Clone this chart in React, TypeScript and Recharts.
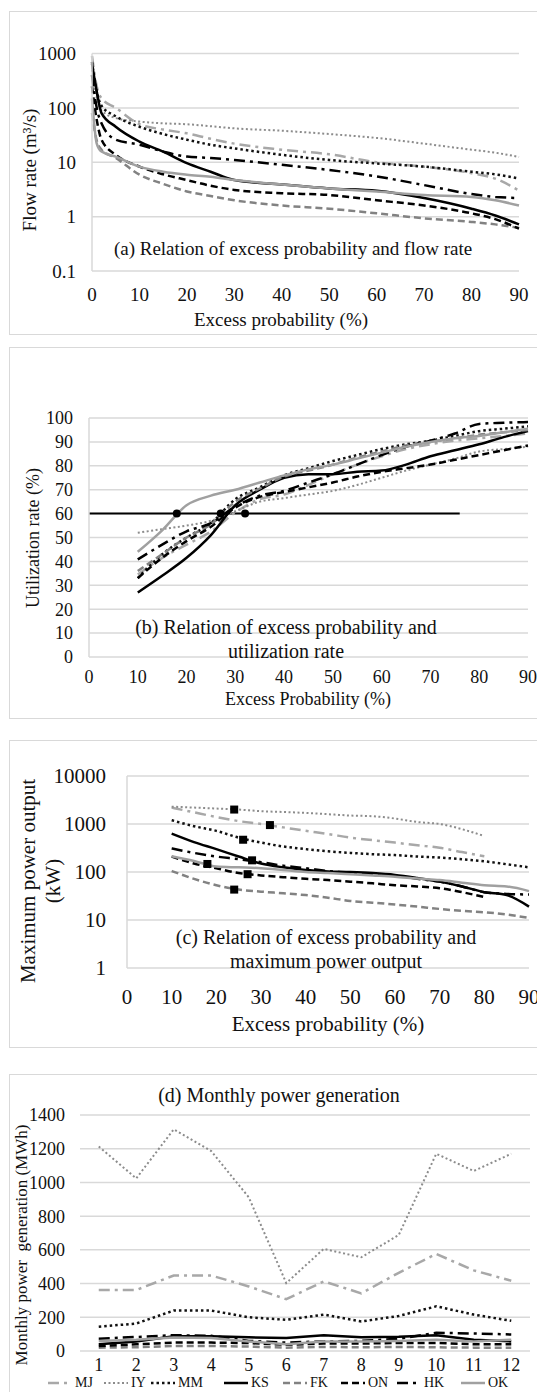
import React from "react";
import {
  ComposedChart,
  Line,
  Scatter,
  XAxis,
  YAxis,
  CartesianGrid,
  ReferenceLine,
} from "recharts";

const seriesNames = ["MJ", "IY", "MM", "KS", "FK", "ON", "HK", "OK"];

// (a) flow duration
const probA = [0, 1, 2, 5, 10, 15, 20, 25, 30, 40, 50, 60, 70, 80, 85, 90];
const flowMJ = [900, 250, 150, 100, 50, 40, 34, 27, 22, 17, 14, 10, 8.3, 6.3, 5, 3];
const flowIY = [500, 150, 90, 65, 56, 52, 50, 46, 42, 38, 33, 28, 22, 17, 15, 12.5];
const flowMM = [700, 200, 110, 70, 45, 33, 26, 21, 18, 13.7, 11, 9.5, 8.3, 6.7, 6, 5];
const flowKS = [650, 200, 80, 45, 24, 15.7, 9.6, 6.7, 4.7, 3.9, 3.3, 3.0, 2.2, 1.4, 1.05, 0.72];
const flowFK = [80, 25, 17, 12, 5.9, 4, 2.9, 2.4, 2.0, 1.6, 1.4, 1.15, 0.93, 0.8, 0.72, 0.62];
const flowON = [250, 60, 26, 13.7, 8.3, 6, 4.7, 3.7, 3.1, 2.7, 2.5, 2.0, 1.6, 1.15, 0.9, 0.6];
const flowHK = [400, 100, 52, 26, 21, 15.7, 12.7, 12, 11, 9, 7.2, 5.5, 3.8, 2.6, 2.3, 2.2];
const flowOK = [150, 22, 15.7, 12.7, 8.3, 6.7, 5.9, 5.4, 4.7, 3.9, 3.3, 2.9, 2.5, 2.3, 2.0, 1.6];

// (b) utilization rate
const probB = [10, 15, 20, 25, 30, 35, 40, 45, 50, 55, 60, 65, 70, 75, 80, 85, 90];
const utilMJ = [34.5, 41.5, 47, 52.5, 60.5, 66, 68, 72, 76.5, 80.5, 84, 87, 89, 90.5, 91.5, 92.5, 93.5];
const utilIY = [52, 53.5, 55, 57, 61, 65, 66.5, 68, 69.5, 72, 75, 78, 80.5, 83, 86, 87, 88];
const utilMM = [33, 43, 50, 56, 66, 71, 76, 79, 82, 84.5, 87, 89, 90.5, 92.5, 94.5, 95.5, 96.5];
const utilKS = [27, 34, 41.5, 51, 63.5, 70, 75, 76.5, 76.5, 77.5, 78, 80.5, 84, 86.5, 89, 92, 94.5];
const utilFK = [36, 43, 50, 55.5, 65, 70.5, 75.5, 78, 80.5, 83.5, 86, 88.5, 90, 91.5, 93, 94, 95];
const utilON = [33, 41.5, 48.5, 54.5, 62.5, 67, 69, 71, 73, 75.5, 77.5, 79, 80.5, 82.5, 84.5, 86.5, 88.5];
const utilHK = [40.8, 47, 52.6, 56, 63, 67.5, 69.5, 73, 76.5, 80.5, 84.5, 88, 90.5, 93.5, 97.5, 98, 98.3];
const utilOK = [44, 53, 63.5, 67.5, 70, 73, 76, 78.5, 80.5, 83, 85.5, 88, 90, 91.5, 92.5, 94, 95.5];
const thresholdRate = 60;
const thresholdSpan = [0, 76];
const thresholdHitsX = [18, 27, 32];

// (c) maximum power output
const probC = [10, 15, 20, 25, 30, 35, 40, 45, 50, 55, 60, 65, 70, 75, 80, 85, 90];
const powMJ = [2200, 1750, 1400, 1150, 1000, 850, 720, 620, 520, 460, 410, 360, 320, 260, 213, null, null];
const powIY = [2300, 2200, 2100, 2000, 1850, 1780, 1700, 1600, 1500, 1450, 1300, 1100, 1000, 780, 560, null, null];
const powMM = [1200, 900, 720, 520, 410, 340, 300, 270, 250, 235, 225, 210, 200, 185, 167, 145, 125];
const powKS = [630, 420, 300, 210, 150, 125, 110, 103, 100, 95, 87, 75, 63, 50, 38, 33, 19];
const powFK = [105, 72, 53, 43, 39, 36, 33, 29, 25, 23, 21, 19, 17, 15.5, 14.5, 13, 11];
const powON = [210, 150, 120, 95, 85, 78, 72, 68, 63, 58, 53, 50, 46, 38, 30, null, null];
const powHK = [310, 250, 210, 185, 160, 135, 120, 105, 95, 90, 85, 72, 63, 50, 38, 35, 34];
const powOK = [213, 170, 130, 125, 120, 110, 100, 95, 90, 85, 80, 73, 68, 60, 53, 50, 40];
const designX = [24, 32, 26, 28, 18, 27, 24];
const designP = [2000, 950, 470, 175, 147, 90, 43];

// (d) monthly generation
const months = [1, 2, 3, 4, 5, 6, 7, 8, 9, 10, 11, 12];
const genMJ = [362, 362, 448, 448, 383, 307, 413, 342, 464, 576, 478, 417];
const genIY = [1213, 1024, 1315, 1186, 912, 403, 606, 556, 688, 1170, 1068, 1170];
const genMM = [144, 163, 240, 240, 200, 185, 216, 175, 208, 265, 216, 179];
const genKS = [40, 57, 87, 87, 81, 77, 94, 81, 85, 94, 67, 57];
const genFK = [20, 22, 30, 30, 26, 20, 24, 22, 24, 22, 20, 20];
const genON = [30, 40, 50, 50, 47, 37, 44, 44, 48, 48, 40, 40];
const genHK = [73, 83, 94, 90, 60, 50, 57, 60, 73, 108, 104, 98];
const genOK = [60, 67, 80, 77, 57, 40, 57, 57, 60, 67, 57, 67];

const lineStyle: Record<string, { color: string; dash?: string; width: number }> = {
  MJ: { color: "#a8a8a8", dash: "11 5 3 5", width: 2.5 },
  IY: { color: "#8c8c8c", dash: "2 2.5", width: 2 },
  MM: { color: "#111111", dash: "2.5 3", width: 2.5 },
  KS: { color: "#000000", width: 2.5 },
  FK: { color: "#828282", dash: "7 4", width: 2.5 },
  ON: { color: "#000000", dash: "7 4", width: 2.5 },
  HK: { color: "#000000", dash: "11 5 3 5", width: 2.5 },
  OK: { color: "#a0a0a0", width: 2.5 },
};

const rows = (xs: number[], cols: Record<string, (number | null)[]>) =>
  xs.map((x, i) => {
    const r: any = { x };
    seriesNames.forEach((k) => (r[k] = cols[k][i]));
    return r;
  });

const dataA = rows(probA, { MJ: flowMJ, IY: flowIY, MM: flowMM, KS: flowKS, FK: flowFK, ON: flowON, HK: flowHK, OK: flowOK });
const dataB = rows(probB, { MJ: utilMJ, IY: utilIY, MM: utilMM, KS: utilKS, FK: utilFK, ON: utilON, HK: utilHK, OK: utilOK });
const dataC = rows(probC, { MJ: powMJ, IY: powIY, MM: powMM, KS: powKS, FK: powFK, ON: powON, HK: powHK, OK: powOK });
const dataD = rows(months, { MJ: genMJ, IY: genIY, MM: genMM, KS: genKS, FK: genFK, ON: genON, HK: genHK, OK: genOK });
const hitsB = thresholdHitsX.map((x) => ({ x, y: thresholdRate }));
const designC = designX.map((x, i) => ({ x, y: designP[i] }));

const FONT = '"Liberation Serif", "Times New Roman", serif';
const GRID = "#d9d9d9";
const probTicks = [0, 10, 20, 30, 40, 50, 60, 70, 80, 90];

const seriesLines = (curve: "monotone" | "linear" = "monotone") =>
  seriesNames.map((k) => (
    <Line
      key={k}
      dataKey={k}
      type={curve}
      stroke={lineStyle[k].color}
      strokeWidth={lineStyle[k].width}
      strokeDasharray={lineStyle[k].dash}
      dot={false}
      activeDot={false}
      isAnimationActive={false}
      connectNulls={false}
    />
  ));

const Frame = ({ top, height }: { top: number; height: number }) => (
  <div
    style={{
      position: "absolute",
      left: 9,
      top,
      width: 545,
      height,
      border: `1px solid ${GRID}`,
      boxSizing: "border-box",
    }}
  />
);

const Txt = ({
  x,
  y,
  size,
  rotate,
  children,
}: {
  x: number;
  y: number;
  size: number;
  rotate?: boolean;
  children: React.ReactNode;
}) => (
  <div
    style={{
      position: "absolute",
      left: x,
      top: y,
      transform: `translate(-50%, -50%)${rotate ? " rotate(-90deg)" : ""}`,
      fontSize: size,
      lineHeight: 1.2,
      whiteSpace: "pre",
      textAlign: "center",
      color: "#111",
    }}
  >
    {children}
  </div>
);

const LegendIcon = ({ k }: { k: string }) => {
  const s = lineStyle[k];
  return (
    <svg width={24} height={10} style={{ marginRight: 3 }}>
      <line x1={0} y1={5} x2={24} y2={5} stroke={s.color} strokeWidth={s.width} strokeDasharray={s.dash} />
    </svg>
  );
};

const legendLeft = [48, 104, 151, 224, 283, 341, 397, 461];

const App = () => {
  const tick = (size: number) => ({ fontSize: size, fill: "#111", fontFamily: FONT });
  return (
    <div
      style={{
        position: "absolute",
        left: 0,
        top: 0,
        width: 537,
        height: 1392,
        overflow: "hidden",
        background: "#fff",
        fontFamily: FONT,
      }}
    >
      {/* (a) */}
      <Frame top={11} height={324} />
      <div style={{ position: "absolute", left: 0, top: 11 }}>
        <ComposedChart width={537} height={324} data={dataA} margin={{ top: 42.5, right: 18, left: 0, bottom: 0 }}>
          <CartesianGrid vertical={false} stroke={GRID} strokeWidth={1.5} />
          <XAxis dataKey="x" type="number" domain={[0, 90]} ticks={probTicks} interval={0} height={64}
            axisLine={false} tickLine={false} tickSize={0} tickMargin={17} tick={tick(19)} />
          <YAxis scale="log" domain={[0.1, 1000]} ticks={[0.1, 1, 10, 100, 1000]} interval={0} allowDataOverflow
            width={92} axisLine={{ stroke: GRID, strokeWidth: 1.5 }} tickLine={false} tickSize={0} tickMargin={16} tick={tick(19)} />
          {seriesLines()}
        </ComposedChart>
      </div>
      <Txt x={30} y={170} size={19} rotate>Flow rate (m³/s)</Txt>
      <Txt x={293} y={249} size={19}>(a) Relation of excess probability and flow rate</Txt>
      <Txt x={281} y={320} size={19}>Excess probability (%)</Txt>

      {/* (b) */}
      <Frame top={347} height={372} />
      <div style={{ position: "absolute", left: 0, top: 347 }}>
        <ComposedChart width={537} height={372} data={dataB} margin={{ top: 71, right: 9, left: 0, bottom: 0 }}>
          <CartesianGrid vertical={false} stroke={GRID} strokeWidth={1.5} />
          <XAxis dataKey="x" type="number" domain={[0, 90]} ticks={probTicks} interval={0} height={62}
            axisLine={false} tickLine={false} tickSize={0} tickMargin={13} tick={tick(18)} />
          <YAxis type="number" domain={[0, 100]} ticks={[0, 10, 20, 30, 40, 50, 60, 70, 80, 90, 100]} interval={0}
            width={89} axisLine={{ stroke: GRID, strokeWidth: 1.5 }} tickLine={false} tickSize={0} tickMargin={16} tick={tick(18)} />
          <ReferenceLine
            segment={[{ x: thresholdSpan[0], y: thresholdRate }, { x: thresholdSpan[1], y: thresholdRate }]}
            stroke="#000" strokeWidth={2} ifOverflow="visible"
          />
          {seriesLines()}
          <Scatter data={hitsB} dataKey="y" isAnimationActive={false}
            shape={(p: any) => <circle cx={p.cx} cy={p.cy} r={4} fill="#000" />} />
        </ComposedChart>
      </div>
      <Txt x={34} y={538} size={18} rotate>Utilization rate (%)</Txt>
      <Txt x={286} y={639} size={20}>{"(b) Relation of excess probability and\nutilization rate"}</Txt>
      <Txt x={308} y={700} size={18}>Excess Probability (%)</Txt>

      {/* (c) */}
      <Frame top={740} height={308} />
      <div style={{ position: "absolute", left: 0, top: 740 }}>
        <ComposedChart width={537} height={308} data={dataC} margin={{ top: 36, right: 8, left: 0, bottom: 0 }}>
          <CartesianGrid vertical={false} stroke={GRID} strokeWidth={1.5} />
          <XAxis dataKey="x" type="number" domain={[0, 90]} ticks={probTicks} interval={0} height={80}
            axisLine={false} tickLine={false} tickSize={0} tickMargin={21} tick={tick(21)} />
          <YAxis scale="log" domain={[1, 10000]} ticks={[1, 10, 100, 1000, 10000]} interval={0} allowDataOverflow
            width={127} axisLine={{ stroke: GRID, strokeWidth: 1.5 }} tickLine={false} tickSize={0} tickMargin={21} tick={tick(21)} />
          {seriesLines()}
          <Scatter data={designC} dataKey="y" isAnimationActive={false}
            shape={(p: any) => <rect x={p.cx - 4} y={p.cy - 4} width={8} height={8} fill="#000" />} />
        </ComposedChart>
      </div>
      <Txt x={41} y={881} size={21} rotate>{"Maximum power output\n(kW)"}</Txt>
      <Txt x={326} y={949} size={20}>{"(c) Relation of excess probability and\nmaximum power output"}</Txt>
      <Txt x={328} y={1025} size={21}>Excess probability (%)</Txt>

      {/* (d) */}
      <Frame top={1074} height={330} />
      <div style={{ position: "absolute", left: 0, top: 1074 }}>
        <ComposedChart width={537} height={318} data={dataD} margin={{ top: 41, right: 7, left: 0, bottom: 0 }}>
          <CartesianGrid vertical={false} stroke={GRID} strokeWidth={1.5} />
          <XAxis dataKey="x" type="number" domain={[0.5, 12.5]} ticks={months} interval={0} height={41}
            axisLine={false} tickLine={false} tickSize={0} tickMargin={7} tick={tick(18)} />
          <YAxis type="number" domain={[0, 1400]} ticks={[0, 200, 400, 600, 800, 1000, 1200, 1400]} interval={0}
            width={80} axisLine={false} tickLine={false} tickSize={0} tickMargin={15} tick={tick(18)} />
          {seriesLines("linear")}
        </ComposedChart>
      </div>
      <Txt x={279} y={1095} size={20}>(d) Monthly power generation</Txt>
      <Txt x={22} y={1245} size={17} rotate>{"Monthly power  generation (MWh)"}</Txt>
      {seriesNames.map((k, i) => (
        <div
          key={k}
          style={{
            position: "absolute",
            left: legendLeft[i],
            top: 1375,
            display: "flex",
            alignItems: "center",
            fontSize: 14,
            color: "#111",
          }}
        >
          <LegendIcon k={k} />
          <span>{k}</span>
        </div>
      ))}
    </div>
  );
};

export default App;
